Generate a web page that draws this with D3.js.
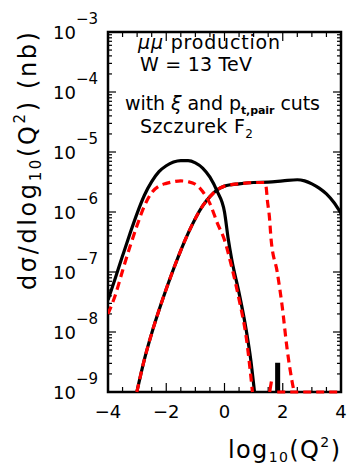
<!DOCTYPE html>
<html><head><meta charset="utf-8">
<script src="https://cdn.jsdelivr.net/npm/d3@7"></script>
<style>body{margin:0;background:#fff}svg{display:block}text{font-family:"DejaVu Sans",sans-serif;fill:#000}</style>
</head><body><svg id="c" width="350" height="468"></svg>
<script>
// ---- data: x = log10(Q^2), y = dsigma/dlog10(Q^2) in nb ----
const blackLowX = [-4.0,-3.75,-3.5,-3.25,-3.0,-2.75,-2.5,-2.25,-2.0,-1.75,-1.5,-1.25,-1.0,-0.75,-0.5,-0.25,0.0,0.13,0.25,0.5,0.75,0.9,1.03];
const blackLowY = [3.4e-8,7.9e-8,1.86e-7,4.3e-7,9.5e-7,1.9e-6,3.2e-6,4.7e-6,5.9e-6,6.8e-6,7.2e-6,7.2e-6,6.6e-6,5.4e-6,3.8e-6,2.2e-6,1.0e-6,3.5e-7,1.6e-7,4.5e-8,1.05e-8,3.5e-9,1.0e-9];
const redLowX = [-4.0,-3.75,-3.5,-3.25,-3.0,-2.75,-2.5,-2.25,-2.0,-1.75,-1.5,-1.25,-1.0,-0.75,-0.5,-0.25,0.0,0.25,0.5,0.75,0.96];
const redLowY = [2.0e-8,4.1e-8,1.05e-7,2.6e-7,6.0e-7,1.26e-6,2.1e-6,2.7e-6,3.0e-6,3.2e-6,3.3e-6,3.2e-6,2.9e-6,2.2e-6,1.38e-6,6.6e-7,3.4e-7,1.2e-7,3.5e-8,7.9e-9,1.0e-9];
const blackHighX = [-3.01,-2.75,-2.5,-2.25,-2.0,-1.75,-1.5,-1.25,-1.0,-0.75,-0.5,-0.25,0.0,0.5,1.0,1.5,2.0,2.5,2.75,3.0,3.25,3.5,3.75,4.0];
const blackHighY = [1.0e-9,3.5e-9,9.5e-9,2.3e-8,5.2e-8,1.12e-7,2.3e-7,4.4e-7,7.8e-7,1.26e-6,1.8e-6,2.35e-6,2.7e-6,2.95e-6,3.1e-6,3.15e-6,3.3e-6,3.45e-6,3.3e-6,2.95e-6,2.5e-6,2.0e-6,1.45e-6,9.5e-7];
const redHighX = [-3.01,-2.75,-2.5,-2.25,-2.0,-1.75,-1.5,-1.25,-1.0,-0.75,-0.5,-0.25,0.0,0.5,1.0,1.37,1.43,1.47,1.54,1.60,1.81,1.98,2.15,2.32,2.39];
const redHighY = [1.0e-9,3.5e-9,9.5e-9,2.3e-8,5.2e-8,1.12e-7,2.3e-7,4.4e-7,7.8e-7,1.26e-6,1.8e-6,2.35e-6,2.7e-6,2.95e-6,3.1e-6,3.1e-6,2.6e-6,1.6e-6,8.5e-7,3.5e-7,1.0e-7,2.7e-8,5.2e-9,1.5e-9,1.0e-9];
const redFloorX = [1.81,4.0];
const redFloorY = [1.0e-9,1.0e-9];
const redSpikeX = [1.55,1.61];
const redSpikeY = [1.0e-9,1.5e-9];
const blackSpikeX = [1.79,1.79,1.86,1.86];
const blackSpikeY = [1.0e-9,2.9e-9,2.9e-9,1.0e-9];
const xTickValues = [-4,-2,0,2,4];
const xTickLabels = ["\u22124","\u22122","0","2","4"];
const yTickExponents = [-9,-8,-7,-6,-5,-4,-3];

// ---- layout ----
const L=108, R=341, T=32, B=392;
const svg = d3.select("#c");
const x = d3.scaleLinear().domain([-4,4]).range([L,R]);
const y = d3.scaleLog().domain([1e-9,1e-3]).range([B,T]).clamp(true);

svg.append("defs").append("clipPath").attr("id","pc")
  .append("rect").attr("x",L).attr("y",T-2).attr("width",R-L).attr("height",B-T+4);

// frame (drawn first, curves on top as in original)
svg.append("rect").attr("x",L).attr("y",T).attr("width",R-L).attr("height",B-T)
  .attr("fill","none").attr("stroke","#000").attr("stroke-width",2.5);

// ---- ticks ----
const tk = svg.append("g").attr("stroke","#000").attr("stroke-width",1.2);
d3.range(-4,4.01,0.5).forEach(v=>{
  const len = (Math.abs(v%2)<1e-6)?9:5;
  tk.append("line").attr("x1",x(v)).attr("x2",x(v)).attr("y1",B).attr("y2",B-len);
  tk.append("line").attr("x1",x(v)).attr("x2",x(v)).attr("y1",T).attr("y2",T+len);
});
yTickExponents.forEach((e,i)=>{
  const v = Math.pow(10,e);
  tk.append("line").attr("x1",L).attr("x2",L+8).attr("y1",y(v)).attr("y2",y(v));
  tk.append("line").attr("x1",R).attr("x2",R-8).attr("y1",y(v)).attr("y2",y(v));
  if(e<-3){
    for(let k=2;k<=9;k++){
      const w=k*v;
      tk.append("line").attr("x1",L).attr("x2",L+4).attr("y1",y(w)).attr("y2",y(w));
      tk.append("line").attr("x1",R).attr("x2",R-4).attr("y1",y(w)).attr("y2",y(w));
    }
  }
  const t = svg.append("text").attr("x",98).attr("y",y(v)+6.5).attr("text-anchor","end").attr("font-size",18);
  t.append("tspan").text("10");
  t.append("tspan").attr("dy",-15).attr("font-size",15).text("\u2212"+Math.abs(e));
});
xTickValues.forEach((v,i)=>{
  svg.append("text").attr("x",x(v)).attr("y",418).attr("text-anchor","middle").attr("font-size",18).text(xTickLabels[i]);
});

const g = svg.append("g").attr("clip-path","url(#pc)");
const line = d3.line().x(d=>x(d[0])).y(d=>y(d[1])).curve(d3.curveMonotoneX);
const zip = (a,b)=>a.map((v,i)=>[v,b[i]]);
const lineLin = d3.line().x(d=>x(d[0])).y(d=>y(d[1]));

g.append("path").attr("d",line(zip(blackLowX,blackLowY))).attr("fill","none").attr("stroke","#000").attr("stroke-width",3.2);
g.append("path").attr("d",line(zip(blackHighX,blackHighY))).attr("fill","none").attr("stroke","#000").attr("stroke-width",3.2);
g.append("path").attr("d",lineLin(zip(blackSpikeX,blackSpikeY))).attr("fill","#000").attr("stroke","#000").attr("stroke-width",3);
g.append("path").attr("d",line(zip(redLowX,redLowY))).attr("fill","none").attr("stroke","#ff0000").attr("stroke-width",3.2).attr("stroke-dasharray","8,5");
g.append("path").attr("d",line(zip(redHighX,redHighY))).attr("fill","none").attr("stroke","#ff0000").attr("stroke-width",3.2).attr("stroke-dasharray","8,5");
g.append("path").attr("d",lineLin(zip(redFloorX,redFloorY))).attr("fill","none").attr("stroke","#ff0000").attr("stroke-width",3).attr("stroke-dasharray","8,5");
g.append("path").attr("d",lineLin(zip(redSpikeX,redSpikeY))).attr("fill","none").attr("stroke","#ff0000").attr("stroke-width",3.2);

// ---- titles ----
const xt = svg.append("text").attr("x",340).attr("y",458).attr("text-anchor","end").attr("font-size",24).attr("textLength",112).attr("lengthAdjust","spacing");
xt.append("tspan").text("log");
xt.append("tspan").attr("font-size",14).attr("dy",4).text("10");
xt.append("tspan").attr("dy",-4).text("(Q");
xt.append("tspan").attr("font-size",14).attr("dy",-11).text("2");
xt.append("tspan").attr("dy",11).text(")");

const yt = svg.append("text").attr("transform","translate(36,32) rotate(-90)").attr("text-anchor","end").attr("font-size",24).attr("textLength",258).attr("lengthAdjust","spacing");
yt.append("tspan").text("d\u03c3/dlog");
yt.append("tspan").attr("font-size",15).attr("dy",5).text("10");
yt.append("tspan").attr("dy",-5).text("(Q");
yt.append("tspan").attr("font-size",15).attr("dy",-11).text("2");
yt.append("tspan").attr("dy",11).text(") (nb)");

// ---- annotations ----
const a1 = svg.append("text").attr("x",138).attr("y",49).attr("font-size",19).attr("textLength",142).attr("lengthAdjust","spacing");
a1.append("tspan").attr("font-style","italic").text("\u03bc\u03bc");
a1.append("tspan").text(" production");
svg.append("text").attr("x",140).attr("y",71).attr("font-size",19).attr("textLength",112).attr("lengthAdjust","spacing").text("W = 13 TeV");
const a3 = svg.append("text").attr("x",125).attr("y",110).attr("font-size",19).attr("textLength",195).attr("lengthAdjust","spacing");
a3.append("tspan").text("with ");
a3.append("tspan").attr("font-style","italic").text("\u03be");
a3.append("tspan").text(" and p");
a3.append("tspan").attr("font-size",11).attr("font-weight","bold").attr("dy",4).text("t,pair");
a3.append("tspan").attr("dy",-4).text(" cuts");
const a4 = svg.append("text").attr("x",140).attr("y",133).attr("font-size",19).attr("textLength",113).attr("lengthAdjust","spacing");
a4.append("tspan").text("Szczurek F");
a4.append("tspan").attr("font-size",12).attr("dy",5).text("2");
</script></body></html>
